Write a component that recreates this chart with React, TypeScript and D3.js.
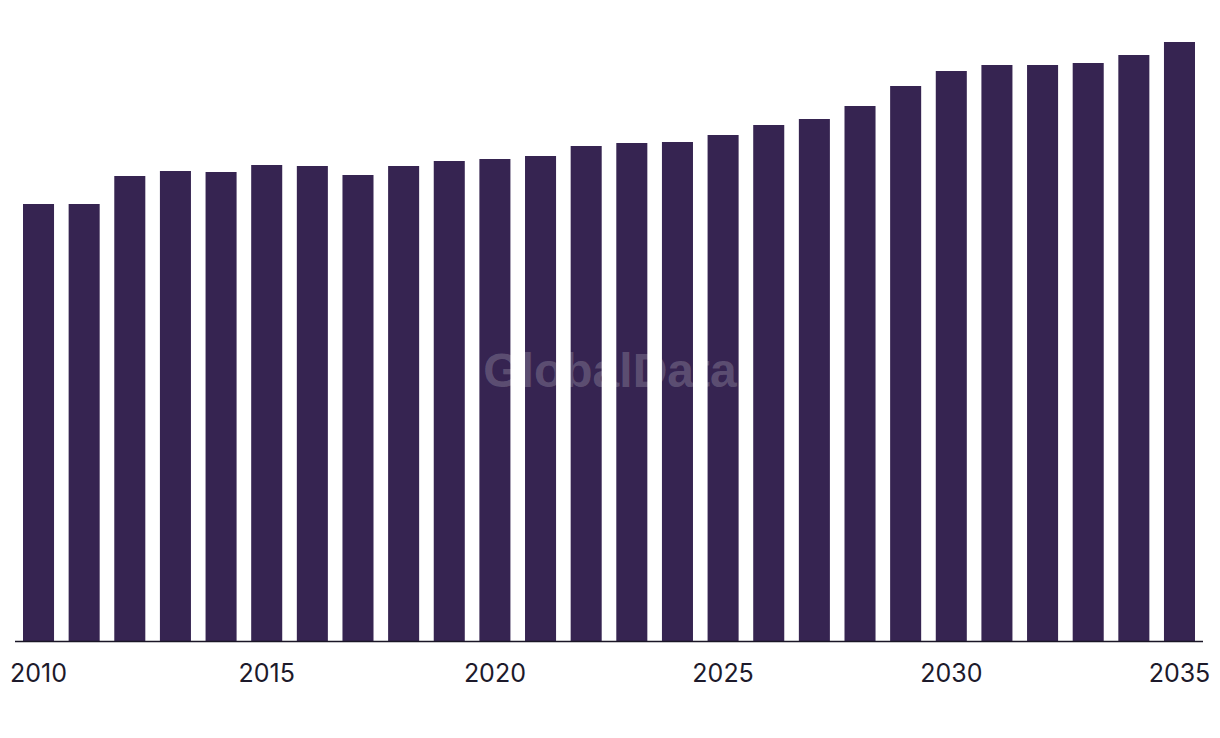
import React from "react";
import * as d3 from "d3";

const years: string[] = [
  "2010","2011","2012","2013","2014","2015","2016","2017","2018","2019","2020","2021","2022",
  "2023","2024","2025","2026","2027","2028","2029","2030","2031","2032","2033","2034","2035",
];
const values: number[] = [
  437, 437, 465, 470, 469, 476, 475, 466, 475, 480, 482, 485, 495,
  498, 499, 506, 516, 522, 535, 555, 570, 576, 576, 578, 586, 599,
];
const tickLabels: string[] = ["2010", "2015", "2020", "2025", "2030", "2035"];

const W = 1220;
const H = 738;
const baseY = 641;

export default function App() {
  const x = d3.scaleBand<string>().domain(years).range([23, 1195]).paddingInner(0.32).paddingOuter(0);
  const y = d3.scaleLinear().domain([0, 600]).range([baseY, 41]);
  return (
    <svg width={W} height={H} style={{ position: "absolute", left: 0, top: 0 }}>
      <rect x={0} y={0} width={W} height={H} fill="#ffffff" />
      {years.map((yr, i) => (
        <rect key={yr} x={x(yr)} y={y(values[i])} width={x.bandwidth()} height={baseY - y(values[i])} fill="#362451" />
      ))}
      <line x1={15} x2={1203} y1={baseY + 0.5} y2={baseY + 0.5} stroke="#1a1626" strokeWidth={1.5} />
      {tickLabels.map((t) => (
        <text key={t} x={(x(t) as number) + x.bandwidth() / 2} y={682} textAnchor="middle"
          fontFamily="Inter, 'Liberation Sans', sans-serif" fontSize={25} fill="#1d1a2b">{t}</text>
      ))}
      <text x={610} y={387} textAnchor="middle" fontFamily="'Liberation Sans', Arial, sans-serif" fontWeight="bold"
        fontSize={48} fill="#ffffff" fillOpacity={0.2}>GlobalData</text>
    </svg>
  );
}
